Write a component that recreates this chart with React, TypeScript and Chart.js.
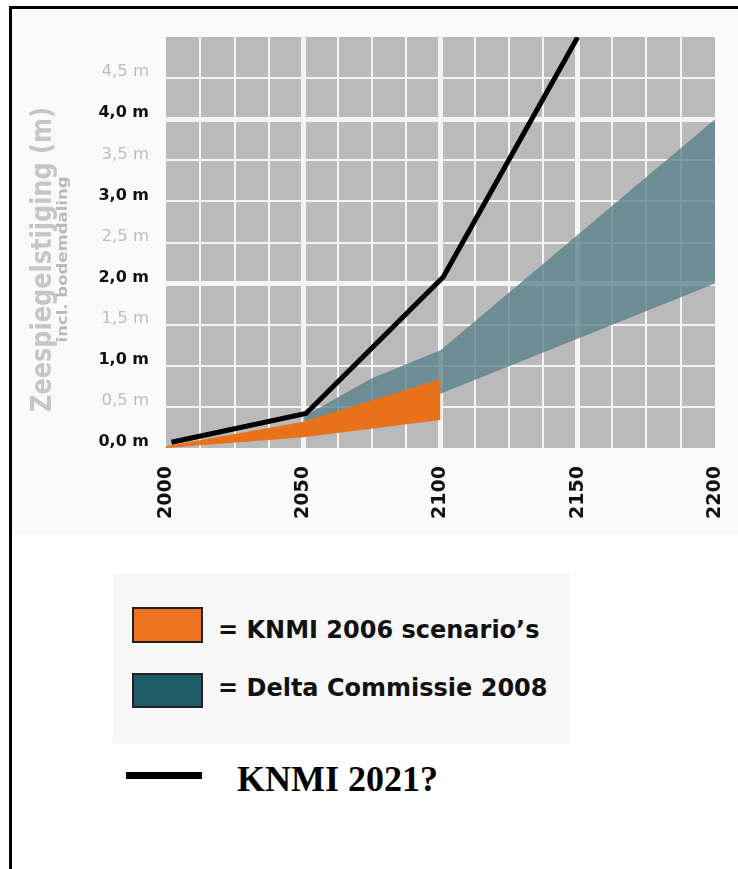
import { useEffect, useRef } from 'react';
import { Chart, registerables } from 'chart.js';

Chart.register(...registerables);

const FONT = '"DejaVu Sans", "Noto Sans", sans-serif';

// KNMI 2021? (black line)
const knmi2021Years = [2002, 2051, 2101, 2150];
const knmi2021Values = [0.07, 0.42, 2.08, 5.0];

// KNMI 2006 scenario's (orange band)
const knmi2006Years = [2000, 2050, 2100];
const knmi2006Low = [0.0, 0.13, 0.34];
const knmi2006High = [0.02, 0.32, 0.84];

// Delta Commissie 2008 (teal band)
const delta2008Years = [2050, 2075, 2100, 2200];
const delta2008Low = [0.28, 0.45, 0.66, 2.0];
const delta2008High = [0.38, 0.85, 1.19, 4.0];

// axes
const xLabelYears = [2000, 2050, 2100, 2150, 2200];
const yMajorValues = [0, 1, 2, 3, 4];
const yTitle = 'Zeespiegelstijging (m)';
const ySubtitle = 'incl. bodemdaling';

const legendItems = ['= KNMI 2006 scenario\u2019s', '= Delta Commissie 2008'];
const lineLegend = 'KNMI 2021?';

const pts = (xs: number[], ys: number[]) => xs.map((x, i) => ({ x, y: ys[i] }));

const plotBgPlugin = {
  id: 'plotBg',
  beforeDraw(chart: any) {
    const { ctx, chartArea } = chart;
    ctx.save();
    ctx.fillStyle = '#bababa';
    ctx.fillRect(chartArea.left, chartArea.top, chartArea.right - chartArea.left, chartArea.bottom - chartArea.top);
    ctx.restore();
  },
};

const axisTitlePlugin = {
  id: 'axisTitles',
  afterDraw(chart: any) {
    const { ctx, chartArea } = chart;
    const cy = (chartArea.top + chartArea.bottom) / 2 + 17;
    const drawRot = (text: string, font: string, color: string, baseX: number, length: number) => {
      ctx.save();
      ctx.font = font;
      ctx.fillStyle = color;
      ctx.textAlign = 'center';
      ctx.textBaseline = 'alphabetic';
      const w = ctx.measureText(text).width;
      ctx.translate(baseX, cy);
      ctx.rotate(-Math.PI / 2);
      ctx.scale(length / w, 1);
      ctx.fillText(text, 0, 0);
      ctx.restore();
    };
    drawRot(yTitle, `bold 29px ${FONT}`, '#c6c6c6', chartArea.left - 115, 305);
    drawRot(ySubtitle, `bold 13.5px ${FONT}`, '#b9b9b9', chartArea.left - 99, 166);
  },
};

export default function App() {
  const ref = useRef<HTMLCanvasElement>(null);

  useEffect(() => {
    const chart = new Chart(ref.current as HTMLCanvasElement, {
      type: 'line',
      data: {
        datasets: [
          {
            label: lineLegend,
            data: pts(knmi2021Years, knmi2021Values),
            borderColor: '#000',
            borderWidth: 5,
            pointRadius: 0,
            fill: false,
            tension: 0,
          },
          {
            label: 'KNMI 2006 hoog',
            data: pts(knmi2006Years, knmi2006High),
            borderColor: 'rgba(0,0,0,0)',
            borderWidth: 0,
            pointRadius: 0,
            fill: '+1',
            backgroundColor: '#e8711a',
          },
          {
            label: 'KNMI 2006 laag',
            data: pts(knmi2006Years, knmi2006Low),
            borderColor: 'rgba(0,0,0,0)',
            borderWidth: 0,
            pointRadius: 0,
            fill: false,
          },
          {
            label: 'Delta Commissie hoog',
            data: pts(delta2008Years, delta2008High),
            borderColor: 'rgba(0,0,0,0)',
            borderWidth: 0,
            pointRadius: 0,
            fill: '+1',
            backgroundColor: 'rgba(88,127,137,0.78)',
          },
          {
            label: 'Delta Commissie laag',
            data: pts(delta2008Years, delta2008Low),
            borderColor: 'rgba(0,0,0,0)',
            borderWidth: 0,
            pointRadius: 0,
            fill: false,
          },
        ],
      },
      options: {
        animation: false,
        responsive: false,
        maintainAspectRatio: false,
        layout: { padding: { left: 0, right: 23, top: 27, bottom: 0 } },
        plugins: { legend: { display: false }, tooltip: { enabled: false } },
        scales: {
          x: {
            type: 'linear',
            min: 2000,
            max: 2200,
            border: { display: false },
            afterFit: (scale: any) => {
              scale.height = 87;
              scale.paddingLeft = 0;
              scale.paddingRight = 0;
            },
            grid: {
              drawTicks: false,
              color: '#f4f4f4',
              lineWidth: (c: any) => {
                const v = c.tick ? c.tick.value : 0;
                if (v === 2000 || v === 2200) return 0;
                return xLabelYears.includes(v) ? 5 : 2;
              },
            },
            ticks: {
              stepSize: 12.5,
              autoSkip: false,
              minRotation: 90,
              maxRotation: 90,
              padding: 18,
              color: '#111',
              font: { family: FONT, size: 19, weight: 'bold' },
              callback: (v: any) => (xLabelYears.includes(Number(v)) ? String(v) : ''),
            },
          },
          y: {
            type: 'linear',
            min: 0,
            max: 5,
            border: { display: false },
            afterFit: (scale: any) => {
              scale.width = 154;
              scale.paddingTop = 0;
              scale.paddingBottom = 0;
            },
            grid: {
              drawTicks: false,
              color: '#f4f4f4',
              lineWidth: (c: any) => {
                const v = c.tick ? c.tick.value : 0;
                if (v === 0 || v === 5) return 0;
                return v === 2 || v === 4 ? 5 : 2;
              },
            },
            ticks: {
              stepSize: 0.5,
              autoSkip: false,
              padding: 17,
              labelOffset: -6,
              color: (c: any) => (yMajorValues.includes(c.tick?.value) ? '#111' : '#bdbdbd'),
              font: (c: any) =>
                yMajorValues.includes(c.tick?.value)
                  ? { family: FONT, size: 16, weight: 'bold' }
                  : { family: FONT, size: 16.5, weight: 'normal' },
              callback: (v: any) => (Number(v) >= 5 ? '' : Number(v).toFixed(1).replace('.', ',') + ' m'),
            },
          },
        },
      },
      plugins: [plotBgPlugin, axisTitlePlugin],
    } as any);
    return () => chart.destroy();
  }, []);

  const textStyle: any = {
    position: 'absolute',
    left: 218,
    fontFamily: FONT,
    fontWeight: 'bold',
    fontSize: 24,
    lineHeight: '24px',
    color: '#111',
    whiteSpace: 'nowrap',
  };

  return (
    <div style={{ position: 'absolute', left: 0, top: 0, width: 738, height: 869, background: '#fff', overflow: 'hidden' }}>
      <div
        style={{
          position: 'absolute',
          left: 9,
          top: 6,
          width: 740,
          height: 870,
          borderTop: '3px solid #000',
          borderLeft: '3px solid #000',
        }}
      />
      <canvas
        ref={ref}
        width={726}
        height={525}
        style={{ position: 'absolute', left: 12, top: 10, width: 726, height: 525, background: '#fafafa' }}
      />
      <div style={{ position: 'absolute', left: 113, top: 573, width: 457, height: 170, background: '#f8f8f8' }} />
      <div
        style={{
          position: 'absolute',
          left: 132,
          top: 607,
          width: 67,
          height: 32,
          background: '#ec7420',
          border: '2px solid #222',
        }}
      />
      <div
        style={{
          position: 'absolute',
          left: 132,
          top: 673,
          width: 67,
          height: 31,
          background: '#1e5c68',
          border: '2px solid #222',
        }}
      />
      <div style={{ ...textStyle, top: 618 }}>{legendItems[0]}</div>
      <div style={{ ...textStyle, top: 676 }}>{legendItems[1]}</div>
      <div style={{ position: 'absolute', left: 126, top: 772, width: 76, height: 7, background: '#000' }} />
      <div
        style={{
          position: 'absolute',
          left: 237,
          top: 761,
          fontFamily: '"Liberation Serif", "Times New Roman", serif',
          fontWeight: 'bold',
          fontSize: 36,
          lineHeight: '36px',
          color: '#000',
          whiteSpace: 'nowrap',
        }}
      >
        {lineLegend}
      </div>
    </div>
  );
}
